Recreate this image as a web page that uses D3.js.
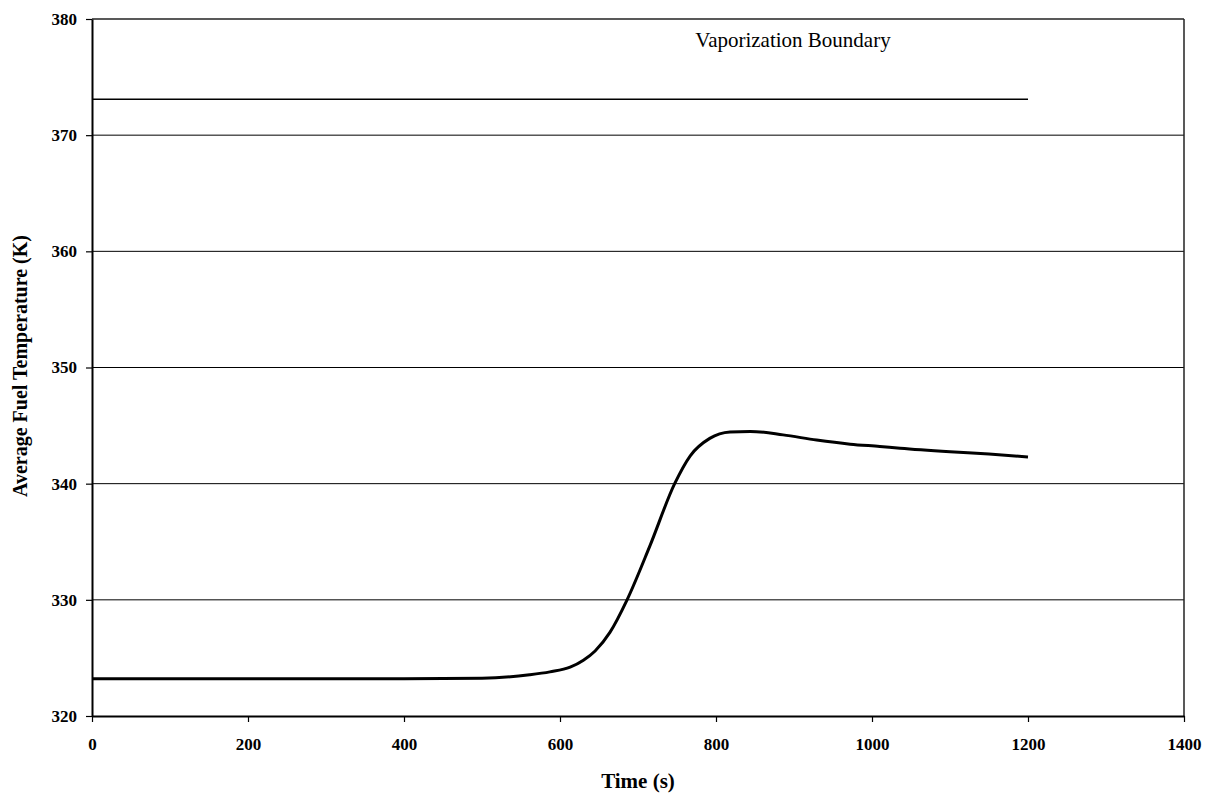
<html>
<head>
<style>
    body { margin: 0; background: white; }
    text { font-family: 'Liberation Serif', 'Times New Roman', serif; fill: black; }
    .tick text { font-size: 17px; font-weight: bold; }
    .grid line { stroke: black; stroke-width: 1; }
</style>
</head>
<body>
<svg width="1209" height="800"></svg>
<script src="https://d3js.org/d3.v7.min.js"></script>
<script>
// data
var times = [0, 100, 200, 300, 400, 500, 561, 587, 613, 630, 645, 664, 686, 715, 747, 767, 792, 818, 844, 886, 929, 972, 1010, 1036, 1100, 1150, 1200];
var temps = [323.2, 323.2, 323.2, 323.2, 323.2, 323.25, 323.55, 323.8, 324.2, 324.8, 325.6, 327.2, 330, 334.6, 340, 342.4, 343.9, 344.45, 344.5, 344.2, 343.75, 343.4, 343.2, 343.05, 342.75, 342.55, 342.3];
var boundaryTimes = [0, 1200];
var boundaryTemp = 373.1;
var xTicks = [0, 200, 400, 600, 800, 1000, 1200, 1400];
var yTicks = [320, 330, 340, 350, 360, 370, 380];

var mLeft = 92, mRight = 1184, mTop = 19, mBottom = 716;
var svg = d3.select('svg');

var x = d3.scaleLinear().domain([0, 1400]).range([mLeft, mRight]);
var y = d3.scaleLinear().domain([320, 380]).range([mBottom, mTop]);

// gridlines
svg.append('g').attr('class', 'grid')
    .selectAll('line')
    .data(yTicks.slice(1, -1))
    .enter()
    .append('line')
    .attr('x1', mLeft).attr('x2', mRight)
    .attr('y1', function (d) { return y(d) }).attr('y2', function (d) { return y(d) });

// frame top/right
svg.append('line').attr('x1', mLeft).attr('x2', mRight).attr('y1', mTop).attr('y2', mTop)
    .attr('stroke', '#222').attr('stroke-width', 1.5);
svg.append('line').attr('x1', mRight).attr('x2', mRight).attr('y1', mTop).attr('y2', mBottom)
    .attr('stroke', '#222').attr('stroke-width', 1.5);

// axes
var xAxis = d3.axisBottom(x).tickValues(xTicks).tickFormat(d3.format('d'))
    .tickSize(6).tickPadding(16).tickSizeOuter(0);
var yAxis = d3.axisLeft(y).tickValues(yTicks).tickFormat(d3.format('d'))
    .tickSize(6).tickPadding(9).tickSizeOuter(0);

var gx = svg.append('g').attr('transform', 'translate(0,' + mBottom + ')').call(xAxis);
var gy = svg.append('g').attr('transform', 'translate(' + mLeft + ',0)').call(yAxis);
[gx, gy].forEach(function (g) {
    g.select('.domain').attr('stroke', 'black').attr('stroke-width', 2);
    g.selectAll('.tick line').attr('stroke', 'black').attr('stroke-width', 1.2);
    g.selectAll('.tick text').attr('fill', 'black');
});

// vaporization boundary
svg.append('path')
    .datum(boundaryTimes)
    .attr('fill', 'none')
    .attr('stroke', 'black')
    .attr('stroke-width', 1.5)
    .attr('d', d3.line().x(function (d) { return x(d) }).y(function () { return y(boundaryTemp) }));

svg.append('text')
    .attr('x', 793).attr('y', 47)
    .attr('text-anchor', 'middle')
    .style('font-size', '21px')
    .text('Vaporization Boundary');

// temperature curve
svg.append('path')
    .datum(times.map(function (t, i) { return [t, temps[i]] }))
    .attr('fill', 'none')
    .attr('stroke', 'black')
    .attr('stroke-width', 3)
    .attr('d', d3.line()
        .curve(d3.curveMonotoneX)
        .x(function (d) { return x(d[0]) })
        .y(function (d) { return y(d[1]) }));

// axis titles
svg.append('text')
    .attr('x', 638).attr('y', 788)
    .attr('text-anchor', 'middle')
    .style('font-size', '21px').style('font-weight', 'bold')
    .text('Time (s)');

svg.append('text')
    .attr('transform', 'translate(27,' + 366 + ') rotate(-90)')
    .attr('text-anchor', 'middle')
    .style('font-size', '20px').style('font-weight', 'bold')
    .text('Average Fuel Temperature (K)');
</script>
</body>
</html>
